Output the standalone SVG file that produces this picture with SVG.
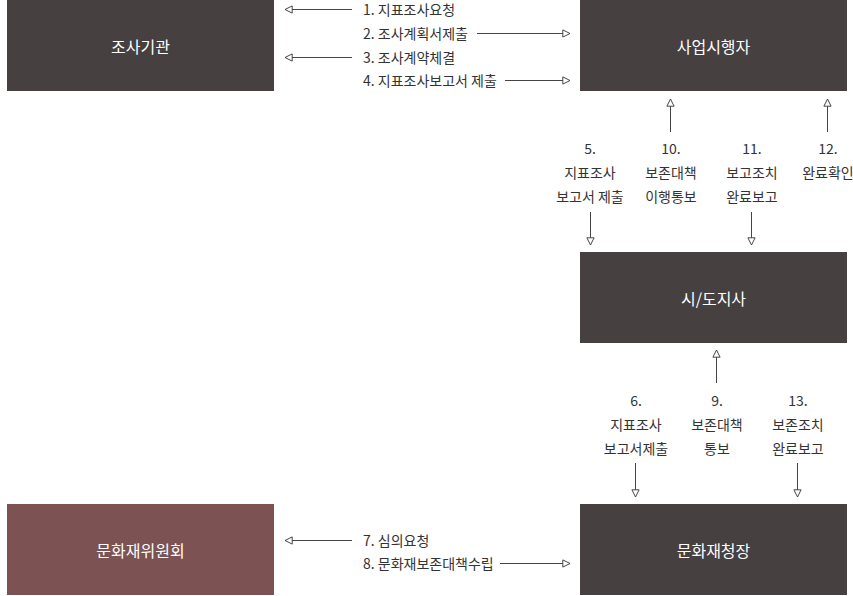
<svg xmlns="http://www.w3.org/2000/svg" width="853" height="596" viewBox="0 0 853 596">
<style>
.box{fill:#464040}
.box2{fill:#7c5252}
.nt{font-family:"Noto Sans CJK KR","Noto Sans",sans-serif;font-size:16px;fill:#ffffff;text-anchor:middle;dominant-baseline:central}
.lb{font-family:"Noto Sans CJK KR","Noto Sans",sans-serif;font-size:14px;fill:#333333}
.lc{text-anchor:middle}
.ln{stroke:#444444;stroke-width:1;fill:none;marker-end:url(#ah)}
</style>
<defs>
<marker id="ah" viewBox="0 0 10 10" refX="9" refY="5" markerWidth="9" markerHeight="9" markerUnits="userSpaceOnUse" orient="auto">
<path d="M1,1 L9,5 L1,9 Z" fill="#ffffff" stroke="#444444" stroke-width="1.1"/>
</marker>
</defs>
<rect width="853" height="596" fill="#ffffff"/>
<g id="node-josagigwan"><rect class="box" x="7" y="0" width="267" height="91"/><text class="nt" x="140.5" y="45.5">조사기관</text></g>
<g id="node-saeopsihaengja"><rect class="box" x="580" y="0" width="267" height="91"/><text class="nt" x="713.5" y="45.5">사업시행자</text></g>
<g id="node-sidoji"><rect class="box" x="580" y="252" width="267" height="91"/><text class="nt" x="713.5" y="297.5">시/도지사</text></g>
<g id="node-munhwajaewiwonhoe"><rect class="box2" x="7" y="504" width="267" height="91"/><text class="nt" x="140.5" y="549.5">문화재위원회</text></g>
<g id="node-munhwajaecheongjang"><rect class="box" x="580" y="504" width="267" height="91"/><text class="nt" x="713.5" y="549.5">문화재청장</text></g>
<g id="connectors">
<line class="ln" x1="352" y1="9.5" x2="285" y2="9.5"/>
<line class="ln" x1="477" y1="33.5" x2="570" y2="33.5"/>
<line class="ln" x1="352" y1="57.5" x2="285" y2="57.5"/>
<line class="ln" x1="505" y1="80.5" x2="570" y2="80.5"/>
<line class="ln" x1="590.5" y1="212" x2="590.5" y2="245"/>
<line class="ln" x1="670.5" y1="132" x2="670.5" y2="99"/>
<line class="ln" x1="751.5" y1="212" x2="751.5" y2="245"/>
<line class="ln" x1="827.5" y1="132" x2="827.5" y2="99"/>
<line class="ln" x1="635.5" y1="463" x2="635.5" y2="497"/>
<line class="ln" x1="716.5" y1="383" x2="716.5" y2="350"/>
<line class="ln" x1="797.5" y1="463" x2="797.5" y2="497"/>
<line class="ln" x1="352" y1="540.5" x2="285" y2="540.5"/>
<line class="ln" x1="500" y1="563.5" x2="570" y2="563.5"/>
</g>
<g id="labels">
<text class="lb" x="363" y="14.5">1. 지표조사요청</text>
<text class="lb" x="363" y="38.5">2. 조사계획서제출</text>
<text class="lb" x="363" y="62.5">3. 조사계약체결</text>
<text class="lb" x="363" y="85.5">4. 지표조사보고서 제출</text>
<text class="lb lc" x="590" y="153.5">5.</text>
<text class="lb lc" x="590" y="177.5">지표조사</text>
<text class="lb lc" x="590" y="201.5">보고서 제출</text>
<text class="lb lc" x="671" y="153.5">10.</text>
<text class="lb lc" x="671" y="177.5">보존대책</text>
<text class="lb lc" x="671" y="201.5">이행통보</text>
<text class="lb lc" x="752" y="153.5">11.</text>
<text class="lb lc" x="752" y="177.5">보고조치</text>
<text class="lb lc" x="752" y="201.5">완료보고</text>
<text class="lb lc" x="828" y="153.5">12.</text>
<text class="lb lc" x="828" y="177.5">완료확인</text>
<text class="lb lc" x="636" y="405.5">6.</text>
<text class="lb lc" x="636" y="429.5">지표조사</text>
<text class="lb lc" x="636" y="453.5">보고서제출</text>
<text class="lb lc" x="717" y="405.5">9.</text>
<text class="lb lc" x="717" y="429.5">보존대책</text>
<text class="lb lc" x="717" y="453.5">통보</text>
<text class="lb lc" x="798" y="405.5">13.</text>
<text class="lb lc" x="798" y="429.5">보존조치</text>
<text class="lb lc" x="798" y="453.5">완료보고</text>
<text class="lb" x="363" y="545.5">7. 심의요청</text>
<text class="lb" x="363" y="568.5">8. 문화재보존대책수립</text>
</g>
</svg>
